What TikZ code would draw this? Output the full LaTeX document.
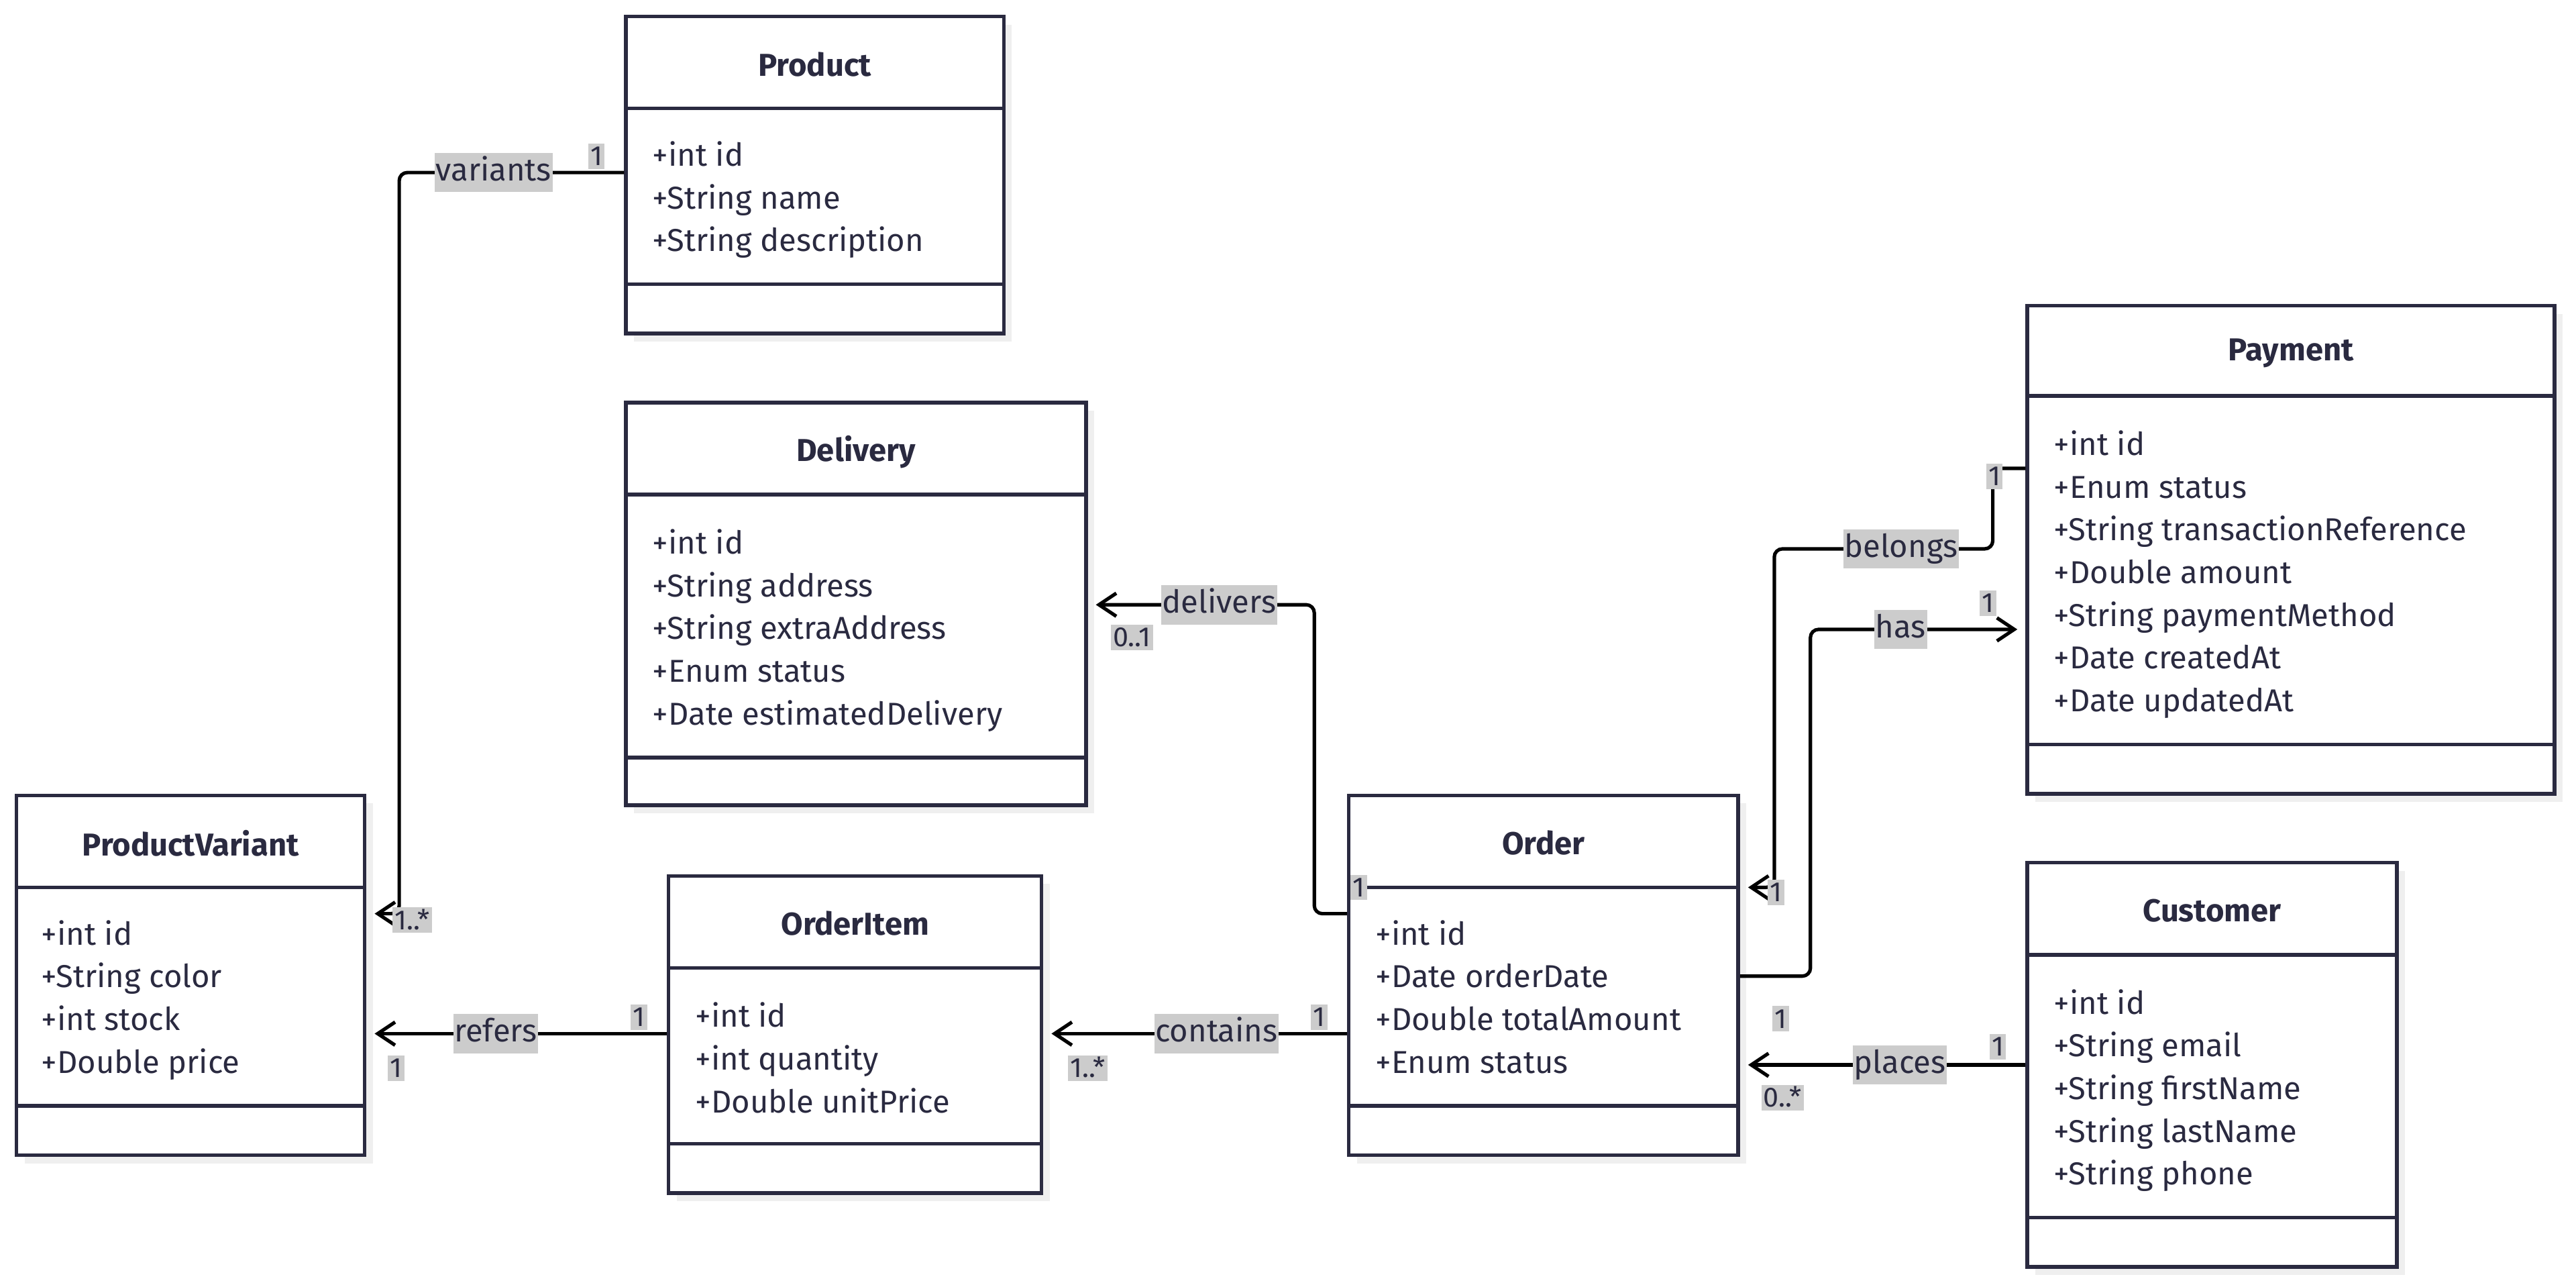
\documentclass[tikz,border=0pt]{standalone}
\usepackage{fontspec}
\setmainfont{Fira Sans}
\usetikzlibrary{fit,shadows,arrows.meta}
\definecolor{ink}{HTML}{2A2A40}
\definecolor{lblgray}{HTML}{CCCCCC}
\definecolor{shadowgray}{HTML}{EFEFEF}
\begin{document}
\begin{tikzpicture}[x=0.025cm,y=-0.025cm,
  classbox/.style={draw=ink,line width=1.6pt,fill=white,inner sep=0pt,
    drop shadow={shadow xshift=3.5pt,shadow yshift=-3.5pt,fill=shadowgray,opacity=1}},
  divider/.style={draw=ink,line width=1.6pt},
  title/.style={text=ink,font=\fontsize{13.7}{16}\selectfont\bfseries},
  attr/.style={text=ink,anchor=west,inner sep=0pt,text height=12pt,text depth=2pt,
    font=\fontsize{13.7}{16}\selectfont},
  assoc/.style={draw=black,line width=1.5pt,rounded corners=3.5pt},
  arr/.style={assoc,-{Straight Barb[length=7.5pt,width=10pt]},shorten >=3.5pt},
  lbl/.style={fill=lblgray,text=ink,sharp corners,inner xsep=0.5pt,inner ysep=2pt,
    font=\fontsize{13.7}{16}\selectfont,text height=10pt,text depth=3pt},
  mult/.style={fill=lblgray,text=ink,sharp corners,inner sep=1pt,
    font=\fontsize{12}{14}\selectfont,text height=8.5pt,text depth=0.5pt}]

\useasboundingbox (0,0) rectangle (1568,781.9);

% classes
\node[classbox, fit={(381,10) (611,203)}] (product) {};
\draw[divider] (product.west |- 0,66) -- (product.east |- 0,66)
               (product.west |- 0,173) -- (product.east |- 0,173);
\node[title] (productT) at (496,39) {Product};
\foreach \a/\y [count=\i] in {+int id/94, +String name/120, +String description/146}
  \node[attr] (productA\i) at (397,\y) {\a};

\node[classbox, fit={(381,245) (661,490)}] (delivery) {};
\draw[divider] (delivery.west |- 0,301) -- (delivery.east |- 0,301)
               (delivery.west |- 0,461) -- (delivery.east |- 0,461);
\node[title] (deliveryT) at (521,275) {Delivery};
\foreach \a/\y [count=\i] in {+int id/330, +String address/356, +String extraAddress/382,
    +Enum status/408, +Date estimatedDelivery/434}
  \node[attr] (deliveryA\i) at (397,\y) {\a};

\node[classbox, fit={(1234,186) (1555,483)}] (payment) {};
\draw[divider] (payment.west |- 0,241) -- (payment.east |- 0,241)
               (payment.west |- 0,453) -- (payment.east |- 0,453);
\node[title] (paymentT) at (1394.5,215) {Payment};
\foreach \a/\y [count=\i] in {+int id/270, +Enum status/296, +String transactionReference/322,
    +Double amount/348, +String paymentMethod/374, +Date createdAt/400, +Date updatedAt/426}
  \node[attr] (paymentA\i) at (1250,\y) {\a};

\node[classbox, fit={(10,484) (222,703)}] (variant) {};
\draw[divider] (variant.west |- 0,540) -- (variant.east |- 0,540)
               (variant.west |- 0,673) -- (variant.east |- 0,673);
\node[title] (variantT) at (116,513) {ProductVariant};
\foreach \a/\y [count=\i] in {+int id/568, +String color/594, +int stock/620, +Double price/646}
  \node[attr] (variantA\i) at (25,\y) {\a};

\node[classbox, fit={(407,533) (634,726)}] (item) {};
\draw[divider] (item.west |- 0,589) -- (item.east |- 0,589)
               (item.west |- 0,696) -- (item.east |- 0,696);
\node[title] (itemT) at (520.5,562) {OrderItem};
\foreach \a/\y [count=\i] in {+int id/618, +int quantity/644, +Double unitPrice/670}
  \node[attr] (itemA\i) at (423,\y) {\a};

\node[classbox, fit={(821,484) (1058,703)}] (order) {};
\draw[divider] (order.west |- 0,540) -- (order.east |- 0,540)
               (order.west |- 0,673) -- (order.east |- 0,673);
\node[title] (orderT) at (939.5,513) {Order};
\foreach \a/\y [count=\i] in {+int id/568, +Date orderDate/594, +Double totalAmount/620, +Enum status/646}
  \node[attr] (orderA\i) at (837,\y) {\a};

\node[classbox, fit={(1234,525) (1459,771)}] (customer) {};
\draw[divider] (customer.west |- 0,581) -- (customer.east |- 0,581)
               (customer.west |- 0,741) -- (customer.east |- 0,741);
\node[title] (customerT) at (1346.5,554) {Customer};
\foreach \a/\y [count=\i] in {+int id/610, +String email/636, +String firstName/662,
    +String lastName/688, +String phone/714}
  \node[attr] (customerA\i) at (1250,\y) {\a};

% associations
\draw[arr] (product.west |- 0,105) -- node[lbl,pos=0.58] (variantsL) {variants} (243,105)
  -- (243,556) -- (variant.east |- 0,556);
\draw[arr] (order.west |- 0,556) -- (800,556) -- (800,368)
  -- node[lbl,pos=0.42] (deliversL) {delivers} (delivery.east |- 0,368);
\draw[arr] (order.west |- 0,629) -- node[lbl,pos=0.43] (containsL) {contains} (item.east |- 0,629);
\draw[arr] (item.west |- 0,629) -- node[lbl,pos=0.57] (refersL) {refers} (variant.east |- 0,629);
\draw[arr] (payment.west |- 0,285) -- (1213,285) -- (1213,334)
  -- node[lbl,pos=0.42] (belongsL) {belongs} (1080,334) -- (1080,540) -- (order.east |- 0,540);
\draw[arr] (order.east |- 0,594) -- (1102,594) -- (1102,383)
  -- node[lbl,pos=0.42] (hasL) {has} (payment.west |- 0,383);
\draw[arr] (customer.west |- 0,648) -- node[lbl,pos=0.44] (placesL) {places} (order.east |- 0,648);

% multiplicities
\node[mult] (m1) at (363,95) {1};
\node[mult] (m2) at (251,560) {1..*};
\node[mult] (m3) at (827,540) {1};
\node[mult] (m4) at (689,388) {0..1};
\node[mult] (m5) at (803,619) {1};
\node[mult] (m6) at (662,650) {1..*};
\node[mult] (m7) at (389,619) {1};
\node[mult] (m8) at (241,650) {1};
\node[mult] (m9) at (1214,290) {1};
\node[mult] (m10) at (1081,543) {1};
\node[mult] (m11) at (1210,367) {1};
\node[mult] (m12) at (1084,620) {1};
\node[mult] (m13) at (1216,637) {1};
\node[mult] (m14) at (1085,668) {0..*};
\end{tikzpicture}
\end{document}
